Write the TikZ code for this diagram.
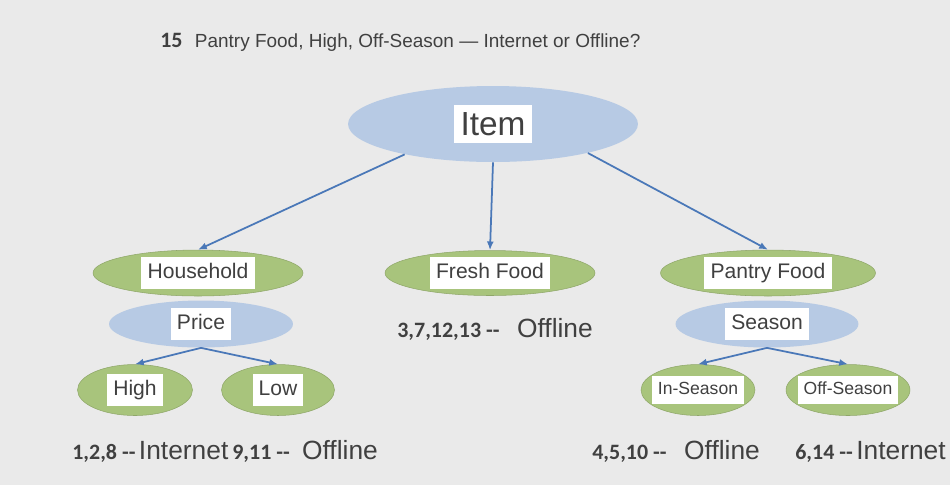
\documentclass[tikz,border=0pt]{standalone}
\usepackage{fontspec}
\setmainfont{Liberation Sans}
\newfontfamily\numfont{Carlito}
\usepackage{tikz}
\usetikzlibrary{positioning,arrows.meta,shapes.geometric}

\definecolor{slidebg}{HTML}{EAEAEA}
\definecolor{bluefill}{HTML}{B7CAE4}
\definecolor{greenfill}{HTML}{A8C47C}
\definecolor{arrowblue}{HTML}{4A78B8}
\definecolor{inktext}{HTML}{404040}

\newcommand{\boxlbl}[1]{{\setlength{\fboxsep}{3.5pt}\colorbox{white}{\vphantom{Hg}#1}}}
\newcommand{\nums}[1]{{\numfont\bfseries\fontsize{12.5}{14}\selectfont #1}}

\begin{document}
\begin{tikzpicture}[
    x=0.02cm, y=-0.02cm,
    attr/.style={
        ellipse,
        fill=bluefill,
        inner sep=-4pt,
        text=inktext,
        font=\fontsize{12}{14}\selectfont
    },
    leaf/.style={
        ellipse,
        fill=greenfill,
        draw=greenfill!85!black,
        line width=0.3pt,
        inner sep=-4pt,
        text=inktext,
        font=\fontsize{12}{14}\selectfont
    },
    result/.style={
        anchor=base west,
        inner sep=0pt,
        text=inktext,
        font=\fontsize{15}{17}\selectfont
    },
    arrow/.style={-{Latex[length=5pt,width=4pt]}, draw=arrowblue, line width=1pt}
]
\fill[slidebg] (0,0) rectangle (950,485);
\useasboundingbox (0,0) rectangle (950,485);

\node[anchor=base west, inner sep=0pt, text=inktext, font=\fontsize{10.8}{12}\selectfont] (title) at (160,47)
{\nums{15}\hspace{7pt}Pantry Food, High, Off-Season --- Internet or Offline?};

\node[attr, minimum width=5.8cm, minimum height=1.52cm, font=\fontsize{19}{22}\selectfont] (item) at (493,124)
{{\setlength{\fboxsep}{4pt}\colorbox{white}{Item}}};

\node[leaf, minimum width=4.2cm, minimum height=0.92cm] (household) at (198,273) {\boxlbl{Household}};
\node[leaf, minimum width=4.2cm, minimum height=0.9cm] (fresh) at (490,273) {\boxlbl{Fresh Food}};
\node[leaf, minimum width=4.3cm, minimum height=0.92cm] (pantry) at (768,273) {\boxlbl{Pantry Food}};

\node[attr, minimum width=3.68cm, minimum height=0.94cm] (price) at (201,324) {\boxlbl{Price}};
\node[attr, minimum width=3.66cm, minimum height=0.94cm] (season) at (767,324) {\boxlbl{Season}};

\node[leaf, minimum width=2.3cm, minimum height=1.02cm] (high) at (135,390) {\boxlbl{High}};
\node[leaf, minimum width=2.26cm, minimum height=1.02cm] (low) at (278,390) {\boxlbl{Low}};
\node[leaf, minimum width=2.28cm, minimum height=1.02cm, font=\fontsize{10}{12}\selectfont] (inseason) at (698,390) {\boxlbl{In-Season}};
\node[leaf, minimum width=2.48cm, minimum height=1.02cm, font=\fontsize{10}{12}\selectfont] (offseason) at (848,390) {\boxlbl{Off-Season}};

\node[result] (highres) at (72,459) {\nums{1,2,8 -{}-}\hspace{2pt}Internet};
\node[result] (lowres) at (232,459) {\nums{9,11 -{}-}\hspace{7pt}Offline};
\node[result] (freshres) at (397,337) {\nums{3,7,12,13 -{}-}\hspace{10pt}Offline};
\node[result] (inres) at (592,459) {\nums{4,5,10 -{}-}\hspace{10pt}Offline};
\node[result] (offres) at (795,459) {\nums{6,14 -{}-}\hspace{2pt}Internet};

\draw[arrow] (item.199) -- (household.north);
\draw[arrow] (item.south) -- (fresh.north);
\draw[arrow] (item.343) -- (pantry.north);

\draw[arrow] (price.south) -- (high.north);
\draw[arrow] (price.south) -- (low.north);
\draw[arrow] (season.south) -- (inseason.north);
\draw[arrow] (season.south) -- (offseason.north);

\end{tikzpicture}
\end{document}
